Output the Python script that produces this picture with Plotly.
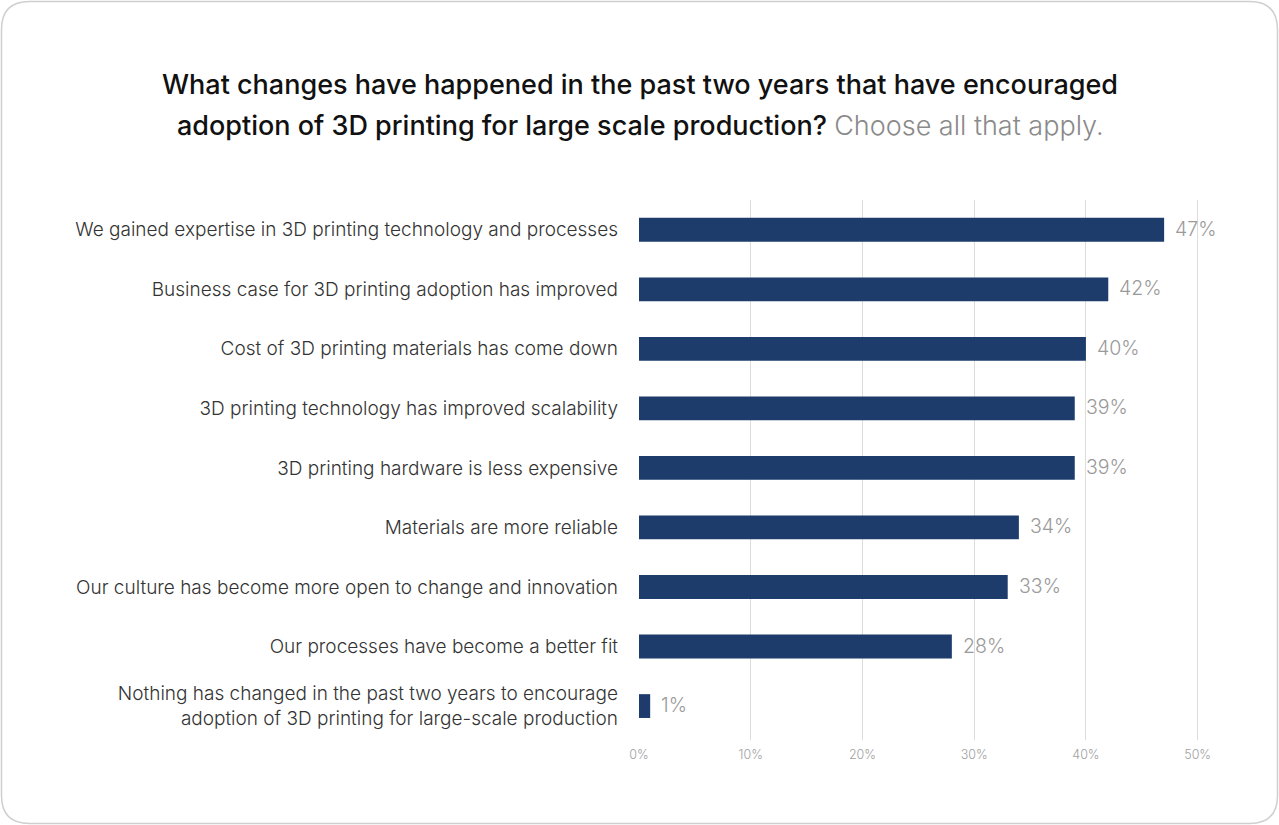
import plotly.graph_objects as go

# Survey responses (share of respondents, %)
categories = [
    "We gained expertise in 3D printing technology and processes",
    "Business case for 3D printing adoption has improved",
    "Cost of 3D printing materials has come down",
    "3D printing technology has improved scalability",
    "3D printing hardware is less expensive",
    "Materials are more reliable",
    "Our culture has become more open to change and innovation",
    "Our processes have become a better fit",
    "Nothing has changed in the past two years to encourage<br>adoption of 3D printing for large-scale production",
]
values = [47, 42, 40, 39, 39, 34, 33, 28, 1]
tick_vals = [0, 10, 20, 30, 40, 50]
tick_text = ["0%", "10%", "20%", "30%", "40%", "50%"]
title_line1 = "What changes have happened in the past two years that have encouraged"
title_line2 = "adoption of 3D printing for large scale production?"
title_note = "Choose all that apply."

W, H = 1279, 825
L, R, T, B = 639, 59, 200, 85
FONT = "Inter, 'Open Sans', sans-serif"

fig = go.Figure(
    go.Bar(
        x=values,
        y=list(range(len(categories))),
        orientation="h",
        width=0.4,
        marker=dict(color="#1d3c6b", line=dict(width=0)),
        hoverinfo="skip",
    )
)

# Value labels just past the end of each bar
for i, v in enumerate(values):
    fig.add_annotation(
        x=v, y=i, text=f"{v}%", showarrow=False,
        xanchor="left", yanchor="middle", xshift=9, yshift=1,
        font=dict(family=FONT, size=19.5, color="#9a9a9a", weight=300),
    )

# Rounded card outline, expressed in paper coordinates of the plot area
pw, ph = W - L - R, H - T - B
def px(x):
    return (x - L) / pw
def py(y):
    return (H - B - y) / ph
x0, x1, y0, y1, r = 1.5, 1277.5, 1.5, 823.5, 28
path = (
    f"M {px(x0 + r)},{py(y0)} L {px(x1 - r)},{py(y0)} "
    f"Q {px(x1)},{py(y0)} {px(x1)},{py(y0 + r)} "
    f"L {px(x1)},{py(y1 - r)} Q {px(x1)},{py(y1)} {px(x1 - r)},{py(y1)} "
    f"L {px(x0 + r)},{py(y1)} Q {px(x0)},{py(y1)} {px(x0)},{py(y1 - r)} "
    f"L {px(x0)},{py(y0 + r)} Q {px(x0)},{py(y0)} {px(x0 + r)},{py(y0)} Z"
)
fig.add_shape(type="path", path=path, xref="paper", yref="paper",
              line=dict(color="#cfcfcf", width=1.5), layer="below")

title_font = dict(family=FONT, size=27, color="#111111", weight=500)
fig.add_annotation(
    text=title_line1, xref="paper", yref="paper",
    x=px(640), y=py(84), xanchor="center", yanchor="middle",
    showarrow=False, font=title_font,
)
fig.add_annotation(
    text=f"{title_line2} <span style='color:#8a8a8a;font-weight:300'>{title_note}</span>",
    xref="paper", yref="paper",
    x=px(640), y=py(126), xanchor="center", yanchor="middle",
    showarrow=False, font=title_font,
)

fig.update_layout(
    width=W, height=H,
    margin=dict(l=L, r=R, t=T, b=B, pad=0),
    paper_bgcolor="white", plot_bgcolor="white",
    showlegend=False,
    xaxis=dict(
        range=[0, 52],
        tickvals=tick_vals, ticktext=tick_text,
        tickfont=dict(family=FONT, size=12.5, color="#a0a0a0", weight=300),
        ticklabelstandoff=5,
        showgrid=True, gridcolor="#dcdcdc", gridwidth=1,
        zeroline=False, showline=False, ticks="",
        fixedrange=True,
    ),
    yaxis=dict(
        range=[8.57, -0.5],
        tickvals=list(range(len(categories))), ticktext=categories,
        tickfont=dict(family=FONT, size=19, color="#333333", weight=300),
        ticklabelstandoff=20,
        showgrid=False, zeroline=False, showline=False, ticks="",
        fixedrange=True,
    ),
)

fig.write_html("out.html")
